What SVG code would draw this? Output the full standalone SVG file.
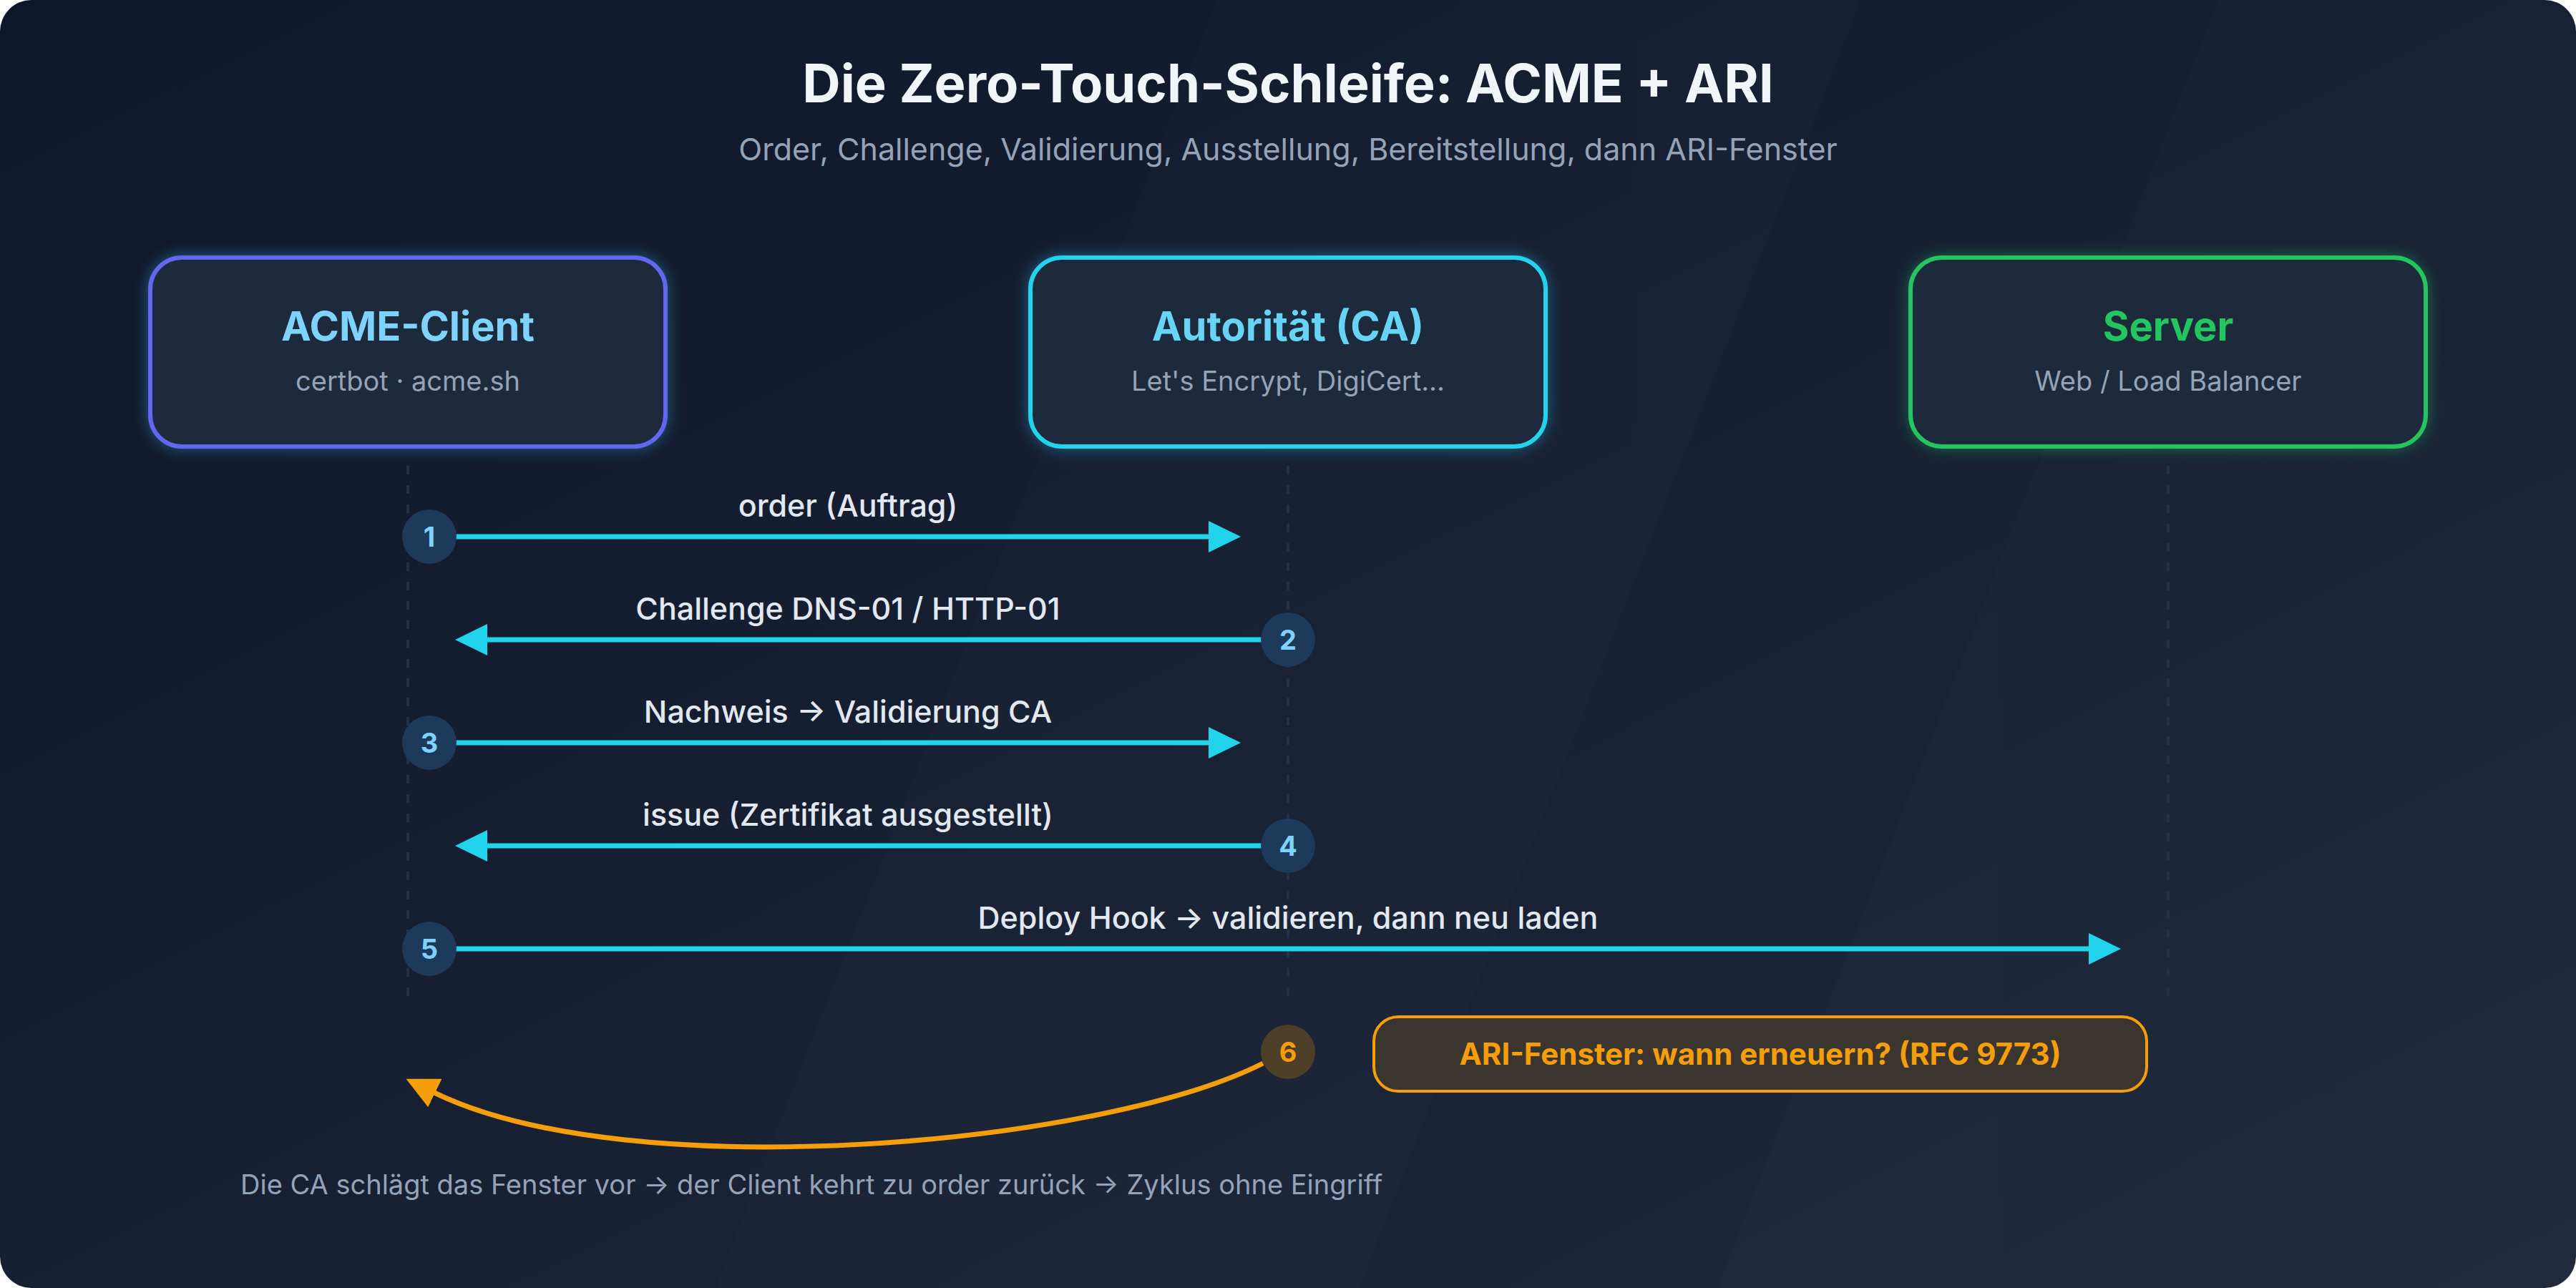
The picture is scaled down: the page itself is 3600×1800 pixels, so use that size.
<svg xmlns="http://www.w3.org/2000/svg" width="3600" height="1800" viewBox="0 0 3600 1800">
  <defs>
    <linearGradient id="bg" x1="0" y1="0" x2="1" y2="1">
      <stop offset="0" stop-color="#0f172a"/>
      <stop offset="1" stop-color="#1e293b"/>
    </linearGradient>
    <filter id="glowBlue" x="-20%" y="-30%" width="140%" height="160%">
      <feDropShadow dx="0" dy="0" stdDeviation="10" flood-color="#38bdf8" flood-opacity="0.4"/>
    </filter>
    <filter id="glowGreen" x="-20%" y="-30%" width="140%" height="160%">
      <feDropShadow dx="0" dy="0" stdDeviation="10" flood-color="#22c55e" flood-opacity="0.4"/>
    </filter>
    <marker id="ahCyan" viewBox="0 0 45 44" refX="1" refY="22" markerWidth="45" markerHeight="44" markerUnits="userSpaceOnUse" orient="auto">
      <path d="M0,0 L45,22 L0,44 Z" fill="#22d3ee"/>
    </marker>
    <marker id="ahAmber" viewBox="0 0 45 44" refX="1" refY="22" markerWidth="45" markerHeight="44" markerUnits="userSpaceOnUse" orient="auto">
      <path d="M0,0 L45,22 L0,44 Z" fill="#f59e0b"/>
    </marker>
    <style>
      text { font-family: Inter, "Liberation Sans", sans-serif; }
      .title { font-size: 74px; font-weight: 700; fill: #f1f5f9; text-anchor: middle; }
      .subtitle { font-size: 43px; font-weight: 400; fill: #94a3b8; text-anchor: middle; }
      .node-box { fill: #1e293b; stroke-width: 6; }
      .node-title { font-size: 56px; font-weight: 700; text-anchor: middle; }
      .node-sub { font-size: 38px; font-weight: 400; fill: #94a3b8; text-anchor: middle; }
      .lifeline { stroke: #243047; stroke-width: 4; stroke-dasharray: 12 15; fill: none; }
      .msg { stroke: #22d3ee; stroke-width: 7; fill: none; marker-end: url(#ahCyan); }
      .loop { stroke: #f59e0b; stroke-width: 7; fill: none; marker-end: url(#ahAmber); }
      .msg-label { font-size: 43px; font-weight: 500; fill: #e2e8f0; text-anchor: middle; }
      .badge { fill: #1e3a5a; }
      .badge-num { font-size: 38px; font-weight: 700; fill: #7dd3fc; text-anchor: middle; }
      .badge-amber { fill: #4e3f29; }
      .badge-num-amber { font-size: 38px; font-weight: 700; fill: #f59e0b; text-anchor: middle; }
      .footer { font-size: 38px; font-weight: 400; fill: #94a3b8; }
    </style>
  </defs>

  <rect x="0" y="0" width="3600" height="1800" fill="#ffffff"/>
  <rect x="0" y="0" width="3600" height="1800" rx="44" ry="44" fill="url(#bg)"/>
  <g opacity="0.01" fill="#ffffff">
    <polygon points="1000,1800 1700,0 2600,0 1900,1800"/>
    <polygon points="2400,1800 3100,0 3600,0 3600,1800"/>
  </g>

  <text class="title" x="1800" y="143">Die Zero-Touch-Schleife: ACME + ARI</text>
  <text class="subtitle" x="1800" y="224">Order, Challenge, Validierung, Ausstellung, Bereitstellung, dann ARI-Fenster</text>

  <g id="lifelines">
    <line class="lifeline" x1="570" y1="651" x2="570" y2="1400"/>
    <line class="lifeline" x1="1800" y1="651" x2="1800" y2="1400"/>
    <line class="lifeline" x1="3030" y1="651" x2="3030" y2="1400"/>
  </g>

  <g id="node-acme-client">
    <rect class="node-box" x="210" y="360" width="720" height="264" rx="44" ry="44" stroke="#6366f1" filter="url(#glowBlue)"/>
    <text class="node-title" x="570" y="476" fill="#7dd3fc">ACME-Client</text>
    <text class="node-sub" x="570" y="546">certbot · acme.sh</text>
  </g>

  <g id="node-ca">
    <rect class="node-box" x="1440" y="360" width="720" height="264" rx="44" ry="44" stroke="#22d3ee" filter="url(#glowBlue)"/>
    <text class="node-title" x="1800" y="476" fill="#67d4f6">Autorität (CA)</text>
    <text class="node-sub" x="1800" y="546">Let's Encrypt, DigiCert...</text>
  </g>

  <g id="node-server">
    <rect class="node-box" x="2670" y="360" width="720" height="264" rx="44" ry="44" stroke="#22c55e" filter="url(#glowGreen)"/>
    <text class="node-title" x="3030" y="476" fill="#22c55e">Server</text>
    <text class="node-sub" x="3030" y="546">Web / Load Balancer</text>
  </g>

  <g id="connectors">
    <line class="msg" x1="630" y1="750" x2="1690" y2="750"/>
    <line class="msg" x1="1768" y1="894" x2="680" y2="894"/>
    <line class="msg" x1="630" y1="1038" x2="1690" y2="1038"/>
    <line class="msg" x1="1768" y1="1182" x2="680" y2="1182"/>
    <line class="msg" x1="630" y1="1326" x2="2920" y2="1326"/>
    <path class="loop" d="M1765,1486 C1540,1600 880,1660 607,1527"/>
  </g>

  <g id="labels">
    <text class="msg-label" x="1185" y="722">order (Auftrag)</text>
    <text class="msg-label" x="1185" y="866">Challenge DNS-01 / HTTP-01</text>
    <text class="msg-label" x="1185" y="1010">Nachweis → Validierung CA</text>
    <text class="msg-label" x="1185" y="1154">issue (Zertifikat ausgestellt)</text>
    <text class="msg-label" x="1800" y="1298">Deploy Hook → validieren, dann neu laden</text>
  </g>

  <g id="badge-1"><circle class="badge" cx="600" cy="750" r="38"/><text class="badge-num" x="600" y="764">1</text></g>
  <g id="badge-2"><circle class="badge" cx="1800" cy="894" r="38"/><text class="badge-num" x="1800" y="908">2</text></g>
  <g id="badge-3"><circle class="badge" cx="600" cy="1038" r="38"/><text class="badge-num" x="600" y="1052">3</text></g>
  <g id="badge-4"><circle class="badge" cx="1800" cy="1182" r="38"/><text class="badge-num" x="1800" y="1196">4</text></g>
  <g id="badge-5"><circle class="badge" cx="600" cy="1326" r="38"/><text class="badge-num" x="600" y="1340">5</text></g>
  <g id="badge-6"><circle class="badge-amber" cx="1800" cy="1470" r="38"/><text class="badge-num-amber" x="1800" y="1484">6</text></g>

  <g id="node-ari">
    <rect x="1920" y="1421" width="1080" height="104" rx="34" ry="34" fill="#3b352f" stroke="#f59e0b" stroke-width="4"/>
    <text x="2460" y="1488" font-size="42" font-weight="700" fill="#f59e0b" text-anchor="middle">ARI-Fenster: wann erneuern? (RFC 9773)</text>
  </g>

  <text class="footer" x="336" y="1669">Die CA schlägt das Fenster vor → der Client kehrt zu order zurück → Zyklus ohne Eingriff</text>
</svg>
